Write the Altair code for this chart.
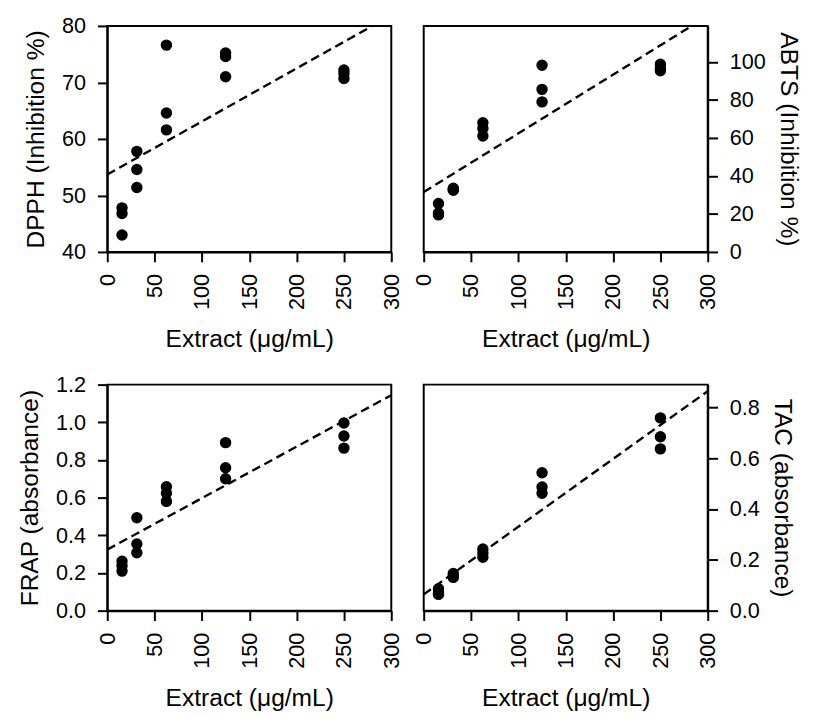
import altair as alt
import pandas as pd

# Extract concentrations (µg/mL), three replicates each
conc = [15.6] * 3 + [31.25] * 3 + [62.5] * 3 + [125] * 3 + [250] * 3

dpph = [47.8, 46.8, 43.0, 57.8, 54.6, 51.4, 76.6, 64.6, 61.6, 75.2, 74.6, 71.0, 72.2, 71.6, 70.7]
abts = [25.5, 20.5, 19.5, 33.5, 32.5, 32.8, 68.0, 65.0, 61.0, 98.3, 85.6, 79.0, 98.8, 96.7, 95.4]
frap = [0.262, 0.238, 0.21, 0.493, 0.354, 0.307, 0.658, 0.623, 0.58, 0.892, 0.759, 0.70, 0.996, 0.927, 0.863]
tac = [0.086, 0.07, 0.064, 0.146, 0.131, 0.138, 0.243, 0.227, 0.21, 0.543, 0.487, 0.462, 0.759, 0.685, 0.637]

# dashed fit lines (endpoints)
dpph_line_x = [0, 280]
dpph_line_y = [53.7, 80]
abts_line_x = [0, 283]
abts_line_y = [31.5, 119]
frap_line_x = [0, 300]
frap_line_y = [0.324, 1.144]
tac_line_x = [0, 300]
tac_line_y = [0.064, 0.864]

x_ticks = [0, 50, 100, 150, 200, 250, 300]
x_title = "Extract (μg/mL)"

W, H = 289, 230

common_axis = dict(
    ticks=True,
    tickSize=10,
    tickWidth=2,
    tickColor="black",
    domain=True,
    domainColor="black",
    domainWidth=2,
    grid=False,
    labelFont="Liberation Sans",
    labelFontSize=22,
    labelColor="black",
    titleFont="Liberation Sans",
    titleFontSize=25,
    titleFontWeight="normal",
    titleColor="black",
    labelPadding=12,
    labelFlush=False,
    labelOverlap=False,
)


def panel(yvals, lx, ly, title, domain, ticks, fmt, orient, tpad):
    df = pd.DataFrame({"x": conc, "y": yvals})
    ldf = pd.DataFrame({"x": lx, "y": ly})
    xenc = alt.X(
        "x:Q",
        scale=alt.Scale(domain=[0, 300], nice=False, zero=False),
        axis=alt.Axis(values=x_ticks, title=x_title, labelAngle=270, titlePadding=18, **common_axis),
    )
    yenc = alt.Y(
        "y:Q",
        scale=alt.Scale(domain=domain, nice=False, zero=False),
        axis=alt.Axis(values=ticks, format=fmt, title=title, orient=orient, titlePadding=tpad, **common_axis),
    )
    line = alt.Chart(ldf).mark_line(color="black", strokeDash=[9, 5], strokeWidth=2.4).encode(x=xenc, y=yenc)
    pts = alt.Chart(df).mark_circle(size=135, color="black", opacity=1).encode(x=xenc, y=yenc)
    return alt.layer(line, pts).properties(width=W, height=H)


tl = panel(dpph, dpph_line_x, dpph_line_y, "DPPH (Inhibition %)", [40, 80], [40, 50, 60, 70, 80], "d", "left", 13)
tr = panel(abts, abts_line_x, abts_line_y, "ABTS (Inhibition %)", [0, 119], [0, 20, 40, 60, 80, 100], "d", "right", 10)
bl = panel(frap, frap_line_x, frap_line_y, "FRAP (absorbance)", [0, 1.2], [0, 0.2, 0.4, 0.6, 0.8, 1.0, 1.2], ".1f", "left", 13)
br = panel(tac, tac_line_x, tac_line_y, "TAC (absorbance)", [0, 0.89], [0, 0.2, 0.4, 0.6, 0.8], ".1f", "right", 10)

chart = (
    alt.concat(tl, tr, bl, br, columns=2, spacing={"row": 20, "column": 9})
    .properties(padding={"left": 9, "top": 0, "right": 5, "bottom": 0}, background="white")
    .configure_view(stroke="black", strokeWidth=2)
)

chart.save("out.html", embed_options={"renderer": "svg", "actions": False})
